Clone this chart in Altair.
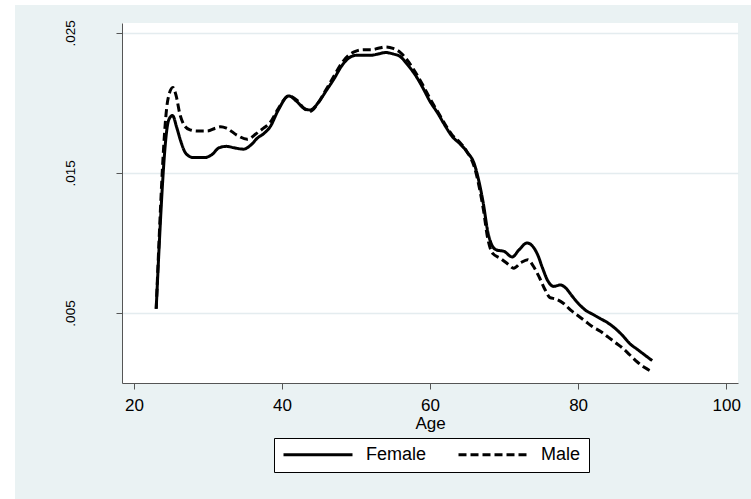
import altair as alt
import pandas as pd

# ---- data ----
female_age = [23, 24.7, 25.2, 25.8, 26.3, 27.0, 28.0, 29.5, 30.5, 31.5, 32.5, 33.5, 34.8, 35.8,
              36.7, 37.5, 38.4, 39.5, 40.9, 42.0, 43.0, 43.8, 45.0, 46.0, 47.0, 48.0, 49.0, 50.0,
              51.0, 52.0, 53.0, 54.0, 55.0, 56.0, 57.0, 58.0, 59.0, 60.0, 61.0, 62.0, 63.0, 64.0,
              65.0, 66.0, 66.6, 67.2, 67.8, 68.4, 69.0, 70.0, 71.1, 72.0, 73.1, 73.8, 74.5, 75.2,
              75.9, 76.7, 77.6, 78.3, 79.2, 80.0, 81.0, 82.0, 83.0, 84.0, 85.0, 86.0, 87.0, 88.0,
              89.0, 90.0]
female_density = [0.0053, 0.0188, 0.0191, 0.0182, 0.0173, 0.0164, 0.0161, 0.0161, 0.0163, 0.0168,
                  0.0169, 0.0168, 0.0167, 0.0170, 0.0175, 0.0178, 0.0183, 0.0195, 0.0205, 0.0201,
                  0.0196, 0.0195, 0.0201, 0.0209, 0.0217, 0.0226, 0.0232, 0.0234, 0.0234, 0.0234,
                  0.0235, 0.0236, 0.0235, 0.0233, 0.0227, 0.0220, 0.0211, 0.0201, 0.0193, 0.0184,
                  0.0176, 0.0171, 0.0165, 0.0156, 0.0144, 0.0128, 0.0108, 0.0098, 0.0095, 0.0094,
                  0.0090, 0.0095, 0.0100, 0.0098, 0.0092, 0.0082, 0.0073, 0.0069, 0.0070, 0.0068,
                  0.0062, 0.0057, 0.0052, 0.0049, 0.0046, 0.0043, 0.0039, 0.0034, 0.0028, 0.0024,
                  0.0020, 0.0016]

male_age = [23, 24.6, 25.25, 25.7, 26.2, 26.8, 27.5, 28.5, 29.9, 31.0, 31.7, 32.5, 33.9, 35.3,
            36.5, 37.5, 38.4, 39.5, 40.9, 42.0, 43.0, 43.8, 45.0, 46.0, 47.0, 48.0, 49.0, 50.0,
            51.0, 52.0, 53.0, 54.0, 55.0, 56.0, 57.0, 58.0, 59.0, 60.0, 61.0, 62.0, 63.0, 64.0,
            65.0, 66.0, 66.6, 67.2, 67.8, 68.4, 69.5, 70.5, 71.3, 72.3, 73.2, 74.0, 74.8, 75.5,
            76.2, 77.0, 78.0, 79.0, 80.0, 81.0, 82.0, 83.0, 84.0, 85.0, 86.0, 87.0, 88.0, 89.0,
            90.0]
male_density = [0.0053, 0.0203, 0.0211, 0.0205, 0.0192, 0.0184, 0.0181, 0.0180, 0.0180, 0.0182,
                0.0183, 0.0182, 0.0177, 0.0174, 0.0178, 0.0182, 0.0186, 0.0196, 0.0205, 0.0202,
                0.0196, 0.0194, 0.0201, 0.0210, 0.0219, 0.0228, 0.0234, 0.0237, 0.0238, 0.0238,
                0.0239, 0.0240, 0.0239, 0.0236, 0.0230, 0.0222, 0.0213, 0.0203, 0.0194, 0.0185,
                0.0177, 0.0172, 0.0165, 0.0154, 0.0141, 0.0124, 0.0103, 0.0093, 0.0089, 0.0085,
                0.0082, 0.0086, 0.0088, 0.0083, 0.0075, 0.0067, 0.0061, 0.0060, 0.0057, 0.0052,
                0.0048, 0.0044, 0.0040, 0.0037, 0.0033, 0.0029, 0.0025, 0.0020, 0.0015, 0.0011,
                0.0008]

series_names = ["Female", "Male"]
x_ticks = [20, 40, 60, 80, 100]
y_ticks = [0.005, 0.015, 0.025]

rows = [{"age": a, "density": d, "sex": "Female"} for a, d in zip(female_age, female_density)]
rows += [{"age": a, "density": d, "sex": "Male"} for a, d in zip(male_age, male_density)]
df = pd.DataFrame(rows)

FONT = "Liberation Sans"
BG = "#EAF2F3"
AXIS_COL = "#555555"

lines = alt.Chart(df).mark_line(color="black", strokeWidth=3, interpolate="monotone").encode(
    x=alt.X("age:Q",
            scale=alt.Scale(domain=[18.38, 101.6], nice=False, zero=False),
            axis=alt.Axis(values=x_ticks, title="Age", grid=False, format="d",
                          labelFont=FONT, labelFontSize=17, labelColor="black",
                          labelBaseline="alphabetic", labelPadding=21.5,
                          tickSize=6, tickColor=AXIS_COL, domainColor=AXIS_COL,
                          titleFont=FONT, titleFontSize=17, titleFontWeight="normal",
                          titleColor="black", titleBaseline="alphabetic", titleY=45.5)),
    y=alt.Y("density:Q",
            scale=alt.Scale(domain=[0, 0.02571], nice=False, zero=False),
            axis=alt.Axis(values=y_ticks, title=None, grid=True,
                          gridColor="#E4ECEF", gridWidth=1.3,
                          labelExpr="substring(format(datum.value, '.3f'), 1)",
                          labelFont=FONT, labelFontSize=13.5, labelColor="black",
                          labelAngle=-90, labelAlign="center", labelBaseline="alphabetic",
                          labelPadding=42, tickSize=6, tickColor=AXIS_COL,
                          domainColor=AXIS_COL)),
    strokeDash=alt.StrokeDash("sex:N",
                              scale=alt.Scale(domain=series_names, range=[[1, 0], [8, 4]]),
                              legend=alt.Legend(title=None, orient="none", legendX=152, legendY=415,
                                                direction="horizontal", symbolType="stroke",
                                                symbolSize=4761, symbolStrokeWidth=3,
                                                symbolStrokeColor="black",
                                                labelFont=FONT, labelFontSize=18, labelColor="black",
                                                labelOffset=12, columnPadding=30, padding=8,
                                                strokeColor="black", fillColor="white",
                                                clipHeight=17)),
)

one = alt.Data(values=[{}])
left_strip = alt.Chart(one).mark_rect(color="white").encode(
    x=alt.value(-122), x2=alt.value(-107), y=alt.value(-23), y2=alt.value(476))
top_strip = alt.Chart(one).mark_rect(color="white").encode(
    x=alt.value(-122), x2=alt.value(629), y=alt.value(-23), y2=alt.value(-18))

chart = alt.layer(left_strip, top_strip, lines).properties(
    width=616, height=360,
    autosize=alt.AutoSizeParams(type="none"),
    padding={"left": 122, "top": 23, "right": 13, "bottom": 116},
    background=BG,
).configure_view(fill="white", stroke=None)

chart.save("out.html", embed_options={"renderer": "svg", "actions": False})
